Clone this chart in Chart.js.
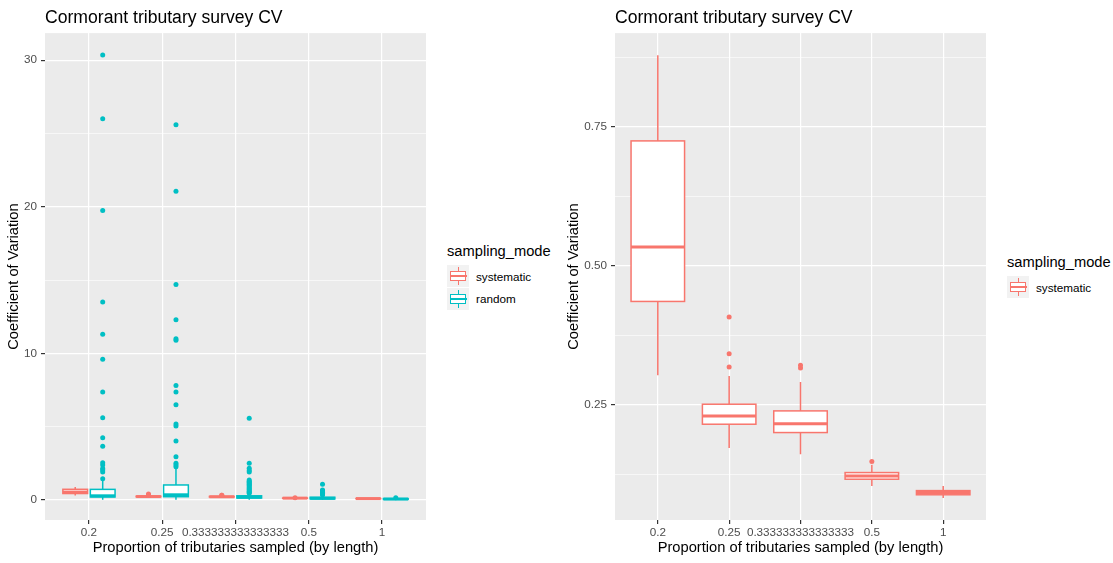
<!DOCTYPE html>
<html>
<head>
<meta charset="utf-8">
<script src="https://cdn.jsdelivr.net/npm/chart.js@4/dist/chart.umd.min.js"></script>
<style>
  body { margin:0; background:#fff; font-family:"Liberation Sans", Arial, sans-serif; }
  #wrap { position:relative; width:1113px; height:563px; }
  canvas { position:absolute; top:0; }
  .leg { position:absolute; color:#000; line-height:1; white-space:nowrap; }
  .legTitle { font-size:14.7px; }
  .legLabel { font-size:11.7px; }
  .key { position:absolute; width:22px; height:22px; background:#F2F2F2; }
  .key .wh { position:absolute; left:10.5px; top:2px; width:1.3px; height:18px; }
  .key .bx { position:absolute; left:2.5px; top:6px; width:14.5px; height:8px; background:#fff; border:1.3px solid; }
  .key .md { position:absolute; left:2.5px; top:10px; width:17px; height:1.5px; }
</style>
</head>
<body>
<div id="wrap">
  <canvas id="left" width="430" height="563" style="left:0"></canvas>
  <canvas id="right" width="430" height="563" style="left:560px"></canvas>

  <div class="leg legTitle" style="left:447px; top:244px">sampling_mode</div>
  <div class="key" style="left:447px; top:265px" data-c="#F8766D"></div>
  <div class="leg legLabel" style="left:476px; top:271px">systematic</div>
  <div class="key" style="left:447px; top:288px" data-c="#00BFC4"></div>
  <div class="leg legLabel" style="left:476px; top:293px">random</div>

  <div class="leg legTitle" style="left:1007px; top:255px">sampling_mode</div>
  <div class="key" style="left:1007px; top:276px" data-c="#F8766D"></div>
  <div class="leg legLabel" style="left:1036px; top:282px">systematic</div>
</div>
<script>
"use strict";

const categories = ["0.2", "0.25", "0.333333333333333", "0.5", "1"];

// systematic: boxplot stats per category
const sysLow  = [0.303, 0.172, 0.161, 0.104, 0.082];
const sysQ1   = [0.436, 0.215, 0.200, 0.116, 0.088];
const sysMed  = [0.534, 0.230, 0.216, 0.122, 0.092];
const sysQ3   = [0.725, 0.251, 0.239, 0.128, 0.0955];
const sysHigh = [0.879, 0.302, 0.291, 0.142, 0.104];
const sysOut  = [[], [0.318, 0.342, 0.408], [0.316, 0.321], [0.148], []];

// random: boxplot stats per category
const rndLow  = [0.02, 0.02, 0.01, 0.01, 0.01];
const rndQ1   = [0.20, 0.22, 0.13, 0.07, 0.04];
const rndMed  = [0.28, 0.35, 0.19, 0.11, 0.06];
const rndQ3   = [0.72, 1.02, 0.28, 0.18, 0.09];
const rndHigh = [1.30, 2.16, 0.42, 0.30, 0.12];
const rndOut  = [
    [1.45, 1.9, 2.04, 2.15, 2.38, 2.54, 3.66, 4.25, 5.6, 7.36, 9.6, 11.3, 13.5, 19.75, 26.0, 30.35],
    [2.27, 2.39, 2.5, 2.95, 4.02, 5.05, 5.18, 6.5, 7.36, 7.8, 10.9, 11.0, 12.3, 14.7, 21.06, 25.6],
    [0.45, 0.52, 0.6, 0.68, 0.75, 0.82, 0.9, 0.98, 1.05, 1.12, 1.2, 1.28, 1.36, 1.9, 2.0, 2.16, 2.5, 5.57],
    [0.34, 0.4, 0.45, 0.52, 0.57, 0.63, 0.68, 1.07],
    [0.15]
];

const leftYTicks = [0, 10, 20, 30];
const rightYTicks = [0.25, 0.5, 0.75];

const SYS = "#F8766D", RND = "#00BFC4";
const FONT = "'Liberation Sans', Arial, sans-serif";

const sysSeries = { low: sysLow, q1: sysQ1, med: sysMed, q3: sysQ3, high: sysHigh, out: sysOut, color: SYS };
const rndSeries = { low: rndLow, q1: rndQ1, med: rndMed, q3: rndQ3, high: rndHigh, out: rndOut, color: RND };

function boxPlugin(groups) {
    return {
        id: "boxes",
        beforeDraw(chart) {
            const { ctx, chartArea: a } = chart;
            ctx.save();
            ctx.fillStyle = "#EBEBEB";
            ctx.fillRect(a.left, a.top, a.width, a.height);
            ctx.restore();
        },
        beforeDatasetsDraw(chart) {
            const { ctx, scales: { x, y } } = chart;
            ctx.save();
            groups.forEach(g => {
                const s = g.series;
                categories.forEach((c, i) => {
                    const cx = x.getPixelForValue(i + g.offset);
                    const half = (x.getPixelForValue(i + g.offset + g.width / 2) - cx);
                    const yLo = y.getPixelForValue(s.low[i]), yQ1 = y.getPixelForValue(s.q1[i]);
                    const yMd = y.getPixelForValue(s.med[i]), yQ3 = y.getPixelForValue(s.q3[i]);
                    const yHi = y.getPixelForValue(s.high[i]);
                    ctx.strokeStyle = s.color;
                    ctx.lineWidth = 1.5;
                    ctx.beginPath();
                    ctx.moveTo(cx, yQ3); ctx.lineTo(cx, yHi);
                    ctx.moveTo(cx, yQ1); ctx.lineTo(cx, yLo);
                    ctx.stroke();
                    ctx.fillStyle = "#fff";
                    ctx.fillRect(cx - half, yQ3, half * 2, yQ1 - yQ3);
                    ctx.strokeRect(cx - half, yQ3, half * 2, yQ1 - yQ3);
                    ctx.lineWidth = 3;
                    ctx.beginPath();
                    ctx.moveTo(cx - half, yMd); ctx.lineTo(cx + half, yMd);
                    ctx.stroke();
                });
            });
            ctx.restore();
        }
    };
}

function outlierSet(s, offset) {
    const pts = [];
    s.out.forEach((vals, i) => vals.forEach(v => pts.push({ x: i + offset, y: v })));
    return { type: "scatter", data: pts, pointRadius: 2.5, pointBackgroundColor: s.color, pointBorderWidth: 0, showLine: false };
}

function isMajor(v, list) { return list.some(t => Math.abs(t - v) < 1e-9); }

function makeChart(id, groups, yMin, yMax, yStep, yMajor, yLabel, yWidth) {
    return new Chart(document.getElementById(id), {
        type: "scatter",
        data: { datasets: groups.map(g => outlierSet(g.series, g.offset)) },
        plugins: [boxPlugin(groups)],
        options: {
            responsive: false,
            animation: false,
            events: [],
            layout: { padding: { left: 0, right: 4, top: 0, bottom: 0 } },
            plugins: {
                legend: { display: false },
                tooltip: { enabled: false },
                title: {
                    display: true, text: "Cormorant tributary survey CV", align: "start", fullSize: false,
                    color: "#000", font: { family: FONT, size: 17.6, weight: "normal" },
                    padding: { top: 8, bottom: 4 }
                }
            },
            scales: {
                x: {
                    type: "linear", min: -0.6, max: 4.6,
                    afterFit(s) { s.height = 43; },
                    border: { display: false },
                    grid: { color: "#fff", lineWidth: 1.2, tickLength: 4, tickColor: "#333" },
                    ticks: {
                        stepSize: 1, includeBounds: false, autoSkip: false, maxRotation: 0, padding: 2,
                        color: "#4D4D4D", font: { family: FONT, size: 11.7 },
                        callback: v => categories[v]
                    },
                    title: {
                        display: true, text: "Proportion of tributaries sampled (by length)",
                        color: "#000", font: { family: FONT, size: 14.7 }, padding: { top: 0, bottom: 6 }
                    }
                },
                y: {
                    type: "linear", min: yMin, max: yMax,
                    afterFit(s) { s.width = yWidth; },
                    border: { display: false },
                    grid: {
                        color: "#fff",
                        lineWidth: c => isMajor(c.tick.value, yMajor) ? 1.2 : 0.6,
                        tickLength: 4,
                        tickColor: c => isMajor(c.tick.value, yMajor) ? "#333" : "rgba(0,0,0,0)"
                    },
                    ticks: {
                        stepSize: yStep, includeBounds: false, padding: 4,
                        color: "#4D4D4D", font: { family: FONT, size: 11.7 },
                        callback: v => isMajor(v, yMajor) ? (yStep < 1 ? v.toFixed(2) : String(v)) : ""
                    },
                    title: {
                        display: true, text: yLabel,
                        color: "#000", font: { family: FONT, size: 14.7 }, padding: { top: 5, bottom: 0 }
                    }
                }
            }
        }
    });
}

makeChart("left",
    [{ series: sysSeries, offset: -0.1875, width: 0.3375 }, { series: rndSeries, offset: 0.1875, width: 0.3375 }],
    -1.37, 31.85, 5, leftYTicks, "Coefficient of Variation", 45);

makeChart("right",
    [{ series: sysSeries, offset: 0, width: 0.75 }],
    0.0426, 0.919, 0.125, rightYTicks, "Coefficient of Variation", 55);

document.querySelectorAll(".key").forEach(k => {
    const c = k.dataset.c;
    k.innerHTML = `<div class="wh" style="background:${c}"></div><div class="bx" style="border-color:${c}"></div><div class="md" style="background:${c}"></div>`;
});
</script>
</body>
</html>
